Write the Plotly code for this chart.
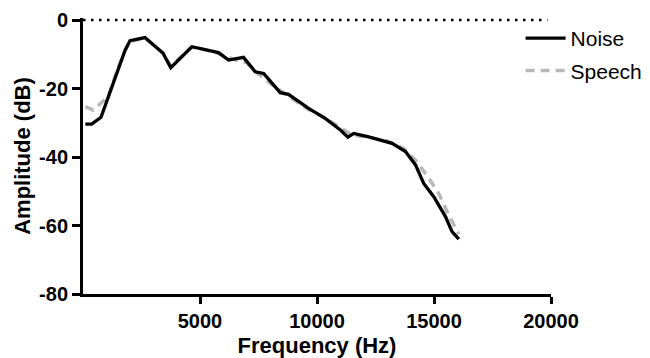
import plotly.graph_objects as go

# Data
noise_f = [100, 370, 770, 1085, 1440, 1800, 2010, 2650, 3420, 3750, 4650, 5130, 5790,
           6220, 6860, 7360, 7720, 8430, 8780, 9640, 10350, 11000, 11320, 11570, 12210,
           13210, 13780, 14210, 14560, 14990, 15490, 15770, 16060]
noise_db = [-30.4, -30.4, -28.4, -22.4, -15.1, -8.8, -6.0, -5.1, -9.7, -13.9, -7.8, -8.6, -9.5,
            -11.7, -10.9, -15.1, -15.6, -21.2, -21.7, -25.8, -28.7, -32.1, -34.2, -33.1, -34.1,
            -36.0, -38.4, -42.3, -47.7, -51.6, -57.4, -61.8, -64.0]

speech_f = [100, 440, 1070, 1440, 1800, 2010, 2650, 3420, 3750, 4650, 5130, 5790, 6500,
            7000, 7500, 8200, 8800, 9600, 10400, 11000, 11500, 12200, 13000, 13700, 14210,
            14780, 15200, 15600, 16060]
speech_db = [-25.3, -26.3, -22.4, -15.1, -8.8, -6.2, -5.3, -9.5, -13.5, -7.9, -8.5, -9.8, -11.6,
             -12.5, -15.8, -19.5, -22.3, -26.0, -28.8, -31.5, -33.6, -34.2, -35.3, -37.5, -40.9,
             -46.2, -50.6, -56.5, -62.5]

ref_f = [0, 19850]
ref_db = [0, 0]

x_tickvals = [5000, 10000, 15000, 20000]
x_ticktext = ["5000", "10000", "15000", "20000"]
y_tickvals = [0, -20, -40, -60, -80]
y_ticktext = ["0", "-20", "-40", "-60", "-80"]

FONT = "Liberation Sans, Arial, sans-serif"

fig = go.Figure()
fig.add_trace(go.Scatter(x=ref_f, y=ref_db, mode="lines", showlegend=False,
                         line=dict(color="black", width=2.5, dash="2.5px,5.5px"), hoverinfo="skip"))
fig.add_trace(go.Scatter(x=speech_f, y=speech_db, mode="lines", name="Speech",
                         legendrank=2, legendgroup="b",
                         line=dict(color="#b8b8b8", width=3.5, dash="9px,6px")))
fig.add_trace(go.Scatter(x=noise_f, y=noise_db, mode="lines", name="Noise",
                         legendrank=1, legendgroup="a",
                         line=dict(color="black", width=3.3)))

fig.update_layout(
    width=650, height=358,
    margin=dict(l=83, r=99, t=18, b=64, autoexpand=False),
    paper_bgcolor="white", plot_bgcolor="white",
    font=dict(family=FONT, color="black"),
    legend=dict(x=0.935, y=1.0, xanchor="left", yanchor="top",
                font=dict(size=21, family=FONT), bgcolor="rgba(0,0,0,0)",
                itemwidth=40,
                traceorder="grouped", tracegroupgap=2),
    xaxis=dict(range=[0, 20000], tickvals=x_tickvals, ticktext=x_ticktext, automargin=False,
               showgrid=False, zeroline=False, showline=True, linewidth=3, linecolor="black",
               ticks="outside", ticklen=7, tickwidth=3, tickcolor="black",
               tickfont=dict(size=20, family=FONT, weight="bold"),
               title=dict(text="Frequency (Hz)", font=dict(size=22, family=FONT, weight="bold"),
                          standoff=7)),
    yaxis=dict(range=[-80, 0.6], tickvals=y_tickvals, ticktext=y_ticktext, automargin=False,
               showgrid=False, zeroline=False, showline=True, linewidth=3, linecolor="black",
               ticks="outside", ticklen=8, tickwidth=3, tickcolor="black",
               tickfont=dict(size=20, family=FONT, weight="bold"),
               title=dict(text="Amplitude (dB)", font=dict(size=22, family=FONT, weight="bold"),
                          standoff=3)),
)

fig.write_html("out.html")
